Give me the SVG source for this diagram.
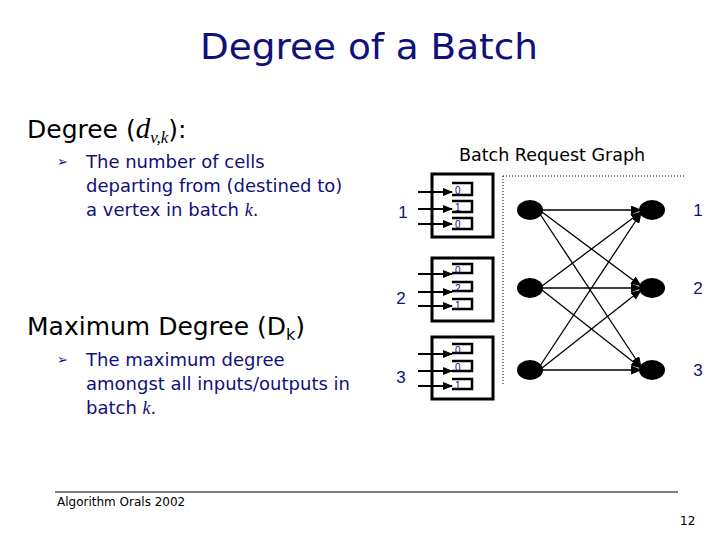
<svg xmlns="http://www.w3.org/2000/svg" width="720" height="540" viewBox="0 0 720 540">
<defs>
<style>
.title{font-family:"DejaVu Sans","Liberation Sans",sans-serif;fill:#10107a;font-size:36px}
.head{font-family:"DejaVu Sans","Liberation Sans",sans-serif;fill:#000;font-size:25px}
.body{font-family:"DejaVu Sans","Liberation Sans",sans-serif;fill:#10107a;font-size:18px}
.it{font-family:"Liberation Serif",serif;font-style:italic}
.lab{font-family:"Liberation Sans",sans-serif;fill:#10107a;font-size:17px}
.q{font-family:"Liberation Sans",sans-serif;fill:#10107a;font-size:10px}
.foot{font-family:"DejaVu Sans","Liberation Sans",sans-serif;fill:#000;font-size:12px}
.box{fill:none;stroke:#000;stroke-width:3}
.slot{fill:none;stroke:#000;stroke-width:2.5}
.in{stroke:#000;stroke-width:2;marker-end:url(#ah)}
.edge{stroke:#000;stroke-width:1.3;marker-end:url(#ah2)}
.node{fill:#000}
</style>
<marker id="ah" markerWidth="10" markerHeight="8" refX="9" refY="4" orient="auto" markerUnits="userSpaceOnUse">
<path d="M0,0 L10,4 L0,8 Z" fill="#000"/>
</marker>
<marker id="ah2" markerWidth="11" markerHeight="9" refX="10" refY="4.5" orient="auto" markerUnits="userSpaceOnUse">
<path d="M0,0 L11,4.5 L0,9 Z" fill="#000"/>
</marker>
</defs>
<rect width="720" height="540" fill="#fff"/>

<g id="title"><text class="title" x="369" y="59" text-anchor="middle" textLength="338" lengthAdjust="spacingAndGlyphs">Degree of a Batch</text></g>

<g id="left-text">
<text class="head" x="27" y="138">Degree (<tspan class="it" font-size="29">d</tspan><tspan class="it" font-size="17" dy="5">v,k</tspan><tspan dy="-5">):</tspan></text>
<text x="57" y="166" font-family="DejaVu Sans,sans-serif" font-size="13" fill="#10107a">➢</text>
<text class="body" x="86" y="168">The number of cells</text>
<text class="body" x="86" y="192">departing from (destined to)</text>
<text class="body" x="86" y="216">a vertex in batch <tspan class="it">k</tspan>.</text>
<text class="head" x="27" y="335">Maximum Degree (D<tspan font-size="16" dy="5">k</tspan><tspan dy="-5">)</tspan></text>
<text x="57" y="364" font-family="DejaVu Sans,sans-serif" font-size="13" fill="#10107a">➢</text>
<text class="body" x="86" y="366">The maximum degree</text>
<text class="body" x="86" y="390">amongst all inputs/outputs in</text>
<text class="body" x="86" y="414">batch <tspan class="it">k</tspan>.</text>
</g>

<g id="graph-title"><text x="459" y="161" font-family="DejaVu Sans,Liberation Sans,sans-serif" font-size="17.5" fill="#000">Batch Request Graph</text></g>

<g id="switch1">
<text class="lab" x="403" y="218" text-anchor="middle">1</text>
<rect class="box" x="432" y="174" width="61" height="63"/>
<path class="slot" d="M452,183 H472 V195 H452 M452,201 H472 V212 H452 M452,218 H472 V229 H452"/>
<line class="in" x1="418" y1="192" x2="452" y2="192"/>
<line class="in" x1="418" y1="209" x2="452" y2="209"/>
<line class="in" x1="418" y1="224" x2="452" y2="224"/>
<text class="q" x="455" y="194">0</text><text class="q" x="455" y="211">1</text><text class="q" x="455" y="228">0</text>
</g>
<g id="switch2">
<text class="lab" x="401" y="304" text-anchor="middle">2</text>
<rect class="box" x="432" y="258" width="61" height="63"/>
<path class="slot" d="M452,264 H472 V273 H452 M452,282 H472 V291 H452 M452,299 H472 V309 H452"/>
<line class="in" x1="418" y1="274" x2="452" y2="274"/>
<line class="in" x1="418" y1="292" x2="452" y2="292"/>
<line class="in" x1="418" y1="306" x2="452" y2="306"/>
<text class="q" x="455" y="274">0</text><text class="q" x="455" y="292">2</text><text class="q" x="455" y="309">1</text>
</g>
<g id="switch3">
<text class="lab" x="401" y="383" text-anchor="middle">3</text>
<rect class="box" x="432" y="337" width="61" height="62"/>
<path class="slot" d="M452,344 H472 V353 H452 M452,361 H472 V371 H452 M452,379 H472 V389 H452"/>
<line class="in" x1="418" y1="354" x2="452" y2="354"/>
<line class="in" x1="418" y1="371" x2="452" y2="371"/>
<line class="in" x1="418" y1="386" x2="452" y2="386"/>
<text class="q" x="455" y="354">0</text><text class="q" x="455" y="371">0</text><text class="q" x="455" y="389">1</text>
</g>

<g id="frame" fill="none" stroke="#000" stroke-width="1" stroke-dasharray="1,2">
<path d="M503,176 H684 M503,176 V386"/>
</g>

<g id="connectors">
<line class="edge" x1="542" y1="210" x2="641" y2="210"/>
<line class="edge" x1="542" y1="212" x2="641" y2="286"/>
<line class="edge" x1="540" y1="214" x2="641" y2="367"/>
<line class="edge" x1="542" y1="286" x2="641" y2="212"/>
<line class="edge" x1="542" y1="288" x2="641" y2="288"/>
<line class="edge" x1="542" y1="290" x2="641" y2="368"/>
<line class="edge" x1="540" y1="366" x2="641" y2="213"/>
<line class="edge" x1="542" y1="368" x2="641" y2="290"/>
<line class="edge" x1="542" y1="370" x2="641" y2="370"/>
</g>

<g id="inputs">
<ellipse id="in1" class="node" cx="530" cy="210" rx="13" ry="10"/>
<ellipse id="in2" class="node" cx="530" cy="288" rx="13" ry="10"/>
<ellipse id="in3" class="node" cx="530" cy="370" rx="13" ry="10"/>
</g>
<g id="outputs">
<ellipse id="out1" class="node" cx="652" cy="210" rx="13" ry="10"/>
<ellipse id="out2" class="node" cx="652" cy="288" rx="13" ry="10"/>
<ellipse id="out3" class="node" cx="652" cy="370" rx="13" ry="10"/>
<text class="lab" x="698" y="216" text-anchor="middle">1</text>
<text class="lab" x="698" y="294" text-anchor="middle">2</text>
<text class="lab" x="698" y="376" text-anchor="middle">3</text>
</g>

<g id="footer">
<line x1="55" y1="492" x2="678" y2="492" stroke="#000" stroke-width="1"/>
<text class="foot" x="57" y="506">Algorithm Orals 2002</text>
<text class="foot" x="680" y="525">12</text>
</g>
</svg>
